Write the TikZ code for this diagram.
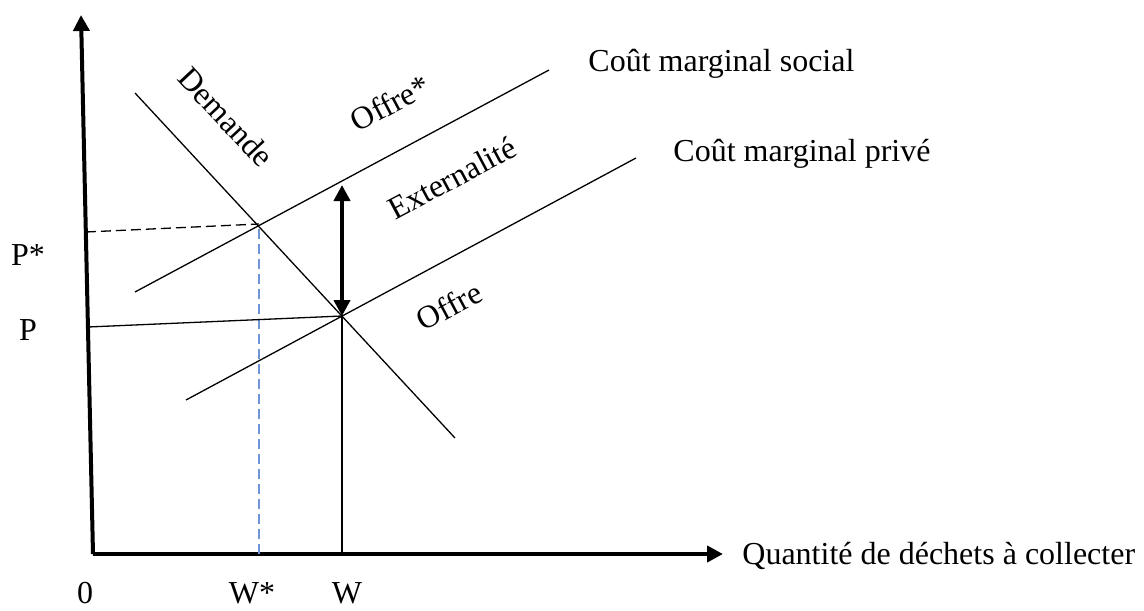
\documentclass[tikz,border=0pt]{standalone}
\usepackage{fontspec}
\setmainfont{Liberation Serif}
\usetikzlibrary{arrows.meta}
\tikzset{
  axisline/.style={-{Triangle[length=8pt,width=8pt]}, line width=2pt},
  curveline/.style={line width=0.65pt},
  guideline/.style={line width=0.65pt, dash pattern=on 5pt off 2.5pt},
  bluedash/.style={guideline, draw=dashblue},
  gaparrow/.style={{Triangle[length=8pt,width=8pt]}-{Triangle[length=8pt,width=8pt]}, line width=2pt},
  txt/.style={inner sep=0pt, font=\fontsize{16}{19}\selectfont}
}
\definecolor{dashblue}{HTML}{6F95D6}

\begin{document}
\begin{tikzpicture}[x=0.5pt, y=-0.5pt]
  \useasboundingbox (0,0) rectangle (1144,610);
  % axes
  \coordinate (origin) at (93,554);
  \coordinate (ytop) at (81,15);
  \coordinate (xend) at (723,554);
  % curves
  \coordinate (dem1) at (135,93);
  \coordinate (dem2) at (455,438);
  \coordinate (soc1) at (135,292);
  \coordinate (soc2) at (549,70);
  \coordinate (priv1) at (186,400);
  \coordinate (priv2) at (636,158);
  % equilibria and guides
  \coordinate (eqsoc) at (259,224);
  \coordinate (eqpriv) at (342,316);
  \coordinate (pstar) at (86,232);
  \coordinate (pbase) at (88,327);
  \coordinate (wstar) at (259,554);
  \coordinate (wbase) at (342,554);
  \coordinate (exttop) at (342,185);

  \draw[axisline] (origin) -- (ytop);
  \draw[axisline] (origin) -- (xend);

  \draw[curveline] (dem1) -- (dem2);
  \draw[curveline] (soc1) -- (soc2);
  \draw[curveline] (priv1) -- (priv2);

  \draw[guideline] (pstar) -- (eqsoc);
  \draw[bluedash] (wstar) -- (eqsoc);
  \draw[curveline] (pbase) -- (eqpriv);
  \draw[curveline] (wbase) -- (eqpriv);
  \draw[gaparrow] (exttop) -- (eqpriv);

  % labels
  \node[txt, anchor=base west] (qlabel) at (742,564) {Quantité de déchets à collecter};
  \node[txt, anchor=base west] (soclabel) at (588,72) {Coût marginal social};
  \node[txt, anchor=base west] (privlabel) at (673,161) {Coût marginal privé};
  \node[txt, rotate=-47] (demlabel) at (226,117) {Demande};
  \node[txt, rotate=28] (offstar) at (390,103) {Offre*};
  \node[txt, rotate=28] (extlabel) at (452,178) {Externalité};
  \node[txt, rotate=28] (offlabel) at (449,306) {Offre};
  \node[txt, anchor=base] (pstarlabel) at (28,265) {P*};
  \node[txt, anchor=base] (plabel) at (28,340) {P};
  \node[txt, anchor=base] (zerolabel) at (85,603) {0};
  \node[txt, anchor=base] (wstarlabel) at (252,603) {W*};
  \node[txt, anchor=base] (wlabel) at (347,603) {W};
\end{tikzpicture}
\end{document}
